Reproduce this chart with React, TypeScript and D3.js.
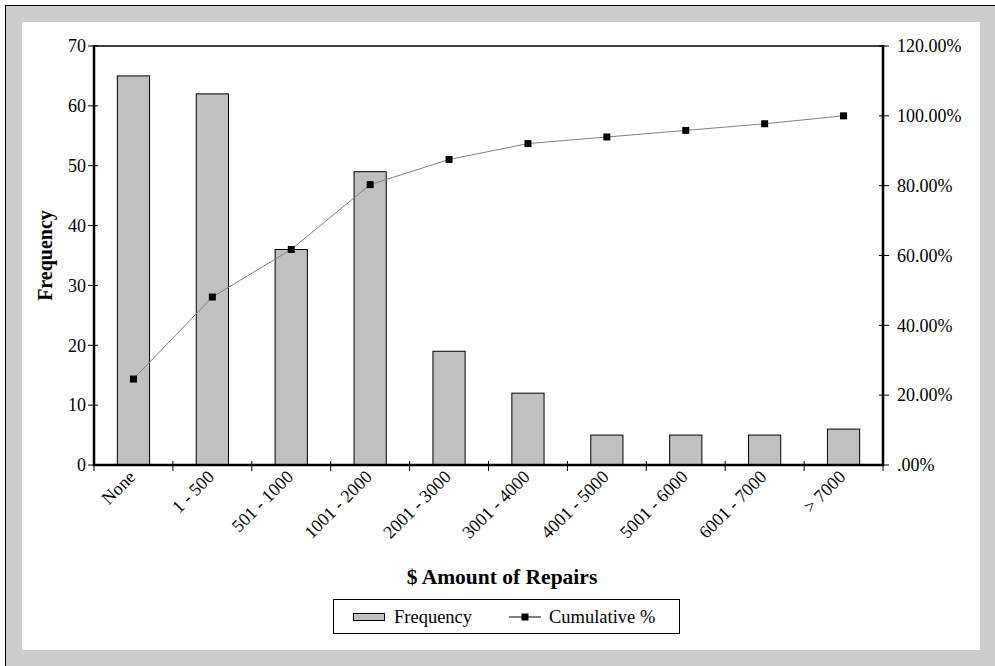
import React from "react";
import * as d3 from "d3";

const categories = ["None", "1 - 500", "501 - 1000", "1001 - 2000", "2001 - 3000", "3001 - 4000", "4001 - 5000", "5001 - 6000", "6001 - 7000", "> 7000"];
const frequency = [65, 62, 36, 49, 19, 12, 5, 5, 5, 6];
const cumulativePct = [24.62, 48.11, 61.74, 80.3, 87.5, 92.05, 93.94, 95.83, 97.73, 100.0];
const leftTicks = [0, 10, 20, 30, 40, 50, 60, 70];
const rightTicks = [0, 20, 40, 60, 80, 100, 120];

const W = 995;
const H = 666;
const FONT = "'Liberation Serif', 'Times New Roman', serif";

export default function App() {
  const left = 94;
  const right = 883;
  const top = 46;
  const bottom = 465;

  const x = d3.scaleBand<string>().domain(categories).range([left, right]).paddingInner(0).paddingOuter(0);
  const bw = x.bandwidth() / 2.45;
  const yL = d3.scaleLinear().domain([0, 70]).range([bottom, top]);
  const yR = d3.scaleLinear().domain([0, 120]).range([bottom, top]);

  const line = d3
    .line<number>()
    .x((_, i) => (x(categories[i]) as number) + x.bandwidth() / 2)
    .y((d) => yR(d));

  const fmtR = (v: number) => (v === 0 ? ".00%" : v.toFixed(2) + "%");

  return (
    <svg width={W} height={H} style={{ position: "absolute", left: 0, top: 0 }} fontFamily={FONT}>
      <rect x={0} y={0} width={W} height={H} fill="#ffffff" />
      <rect x={5} y={5} width={W - 5} height={H - 5} fill="#cccccc" />
      <line x1={5} y1={5.5} x2={W} y2={5.5} stroke="#000" strokeWidth={1} />
      <line x1={5.5} y1={5} x2={5.5} y2={H} stroke="#000" strokeWidth={1} />
      <rect x={22} y={22} width={958} height={628} fill="#ffffff" />

      {/* bars */}
      {categories.map((c, i) => {
        const cx = (x(c) as number) + x.bandwidth() / 2;
        return (
          <rect
            key={c}
            x={cx - bw / 2}
            y={yL(frequency[i])}
            width={bw}
            height={bottom - yL(frequency[i])}
            fill="#c0c0c0"
            stroke="#000"
            strokeWidth={1}
          />
        );
      })}

      {/* plot frame */}
      <line x1={left} y1={top} x2={right} y2={top} stroke="#000" strokeWidth={1.5} />
      <line x1={left} y1={top - 1} x2={left} y2={bottom + 1} stroke="#000" strokeWidth={2.5} />
      <line x1={right} y1={top - 1} x2={right} y2={bottom + 1} stroke="#000" strokeWidth={2.5} />
      <line x1={left - 1} y1={bottom} x2={right + 1} y2={bottom} stroke="#000" strokeWidth={2.5} />

      {/* left ticks */}
      {leftTicks.map((t) => (
        <g key={"l" + t}>
          <line x1={left - 6} x2={left + 4} y1={yL(t)} y2={yL(t)} stroke="#000" strokeWidth={1} />
          <text x={left - 8} y={yL(t)} dy="0.35em" textAnchor="end" fontSize={18} fill="#000">
            {t}
          </text>
        </g>
      ))}

      {/* right ticks */}
      {rightTicks.map((t) => (
        <g key={"r" + t}>
          <line x1={right - 4} x2={right + 6} y1={yR(t)} y2={yR(t)} stroke="#000" strokeWidth={1} />
          <text x={right + 14} y={yR(t)} dy="0.35em" textAnchor="start" fontSize={18} fill="#000">
            {fmtR(t)}
          </text>
        </g>
      ))}

      {/* bottom ticks */}
      {d3.range(categories.length + 1).map((i) => {
        const xx = left + i * x.bandwidth();
        return <line key={"b" + i} x1={xx} x2={xx} y1={bottom - 4} y2={bottom + 6} stroke="#000" strokeWidth={1} />;
      })}

      {/* x labels */}
      {categories.map((c) => {
        const cx = (x(c) as number) + x.bandwidth() / 2;
        return (
          <text
            key={"xl" + c}
            transform={`translate(${cx + 3},${bottom + 13}) rotate(-45)`}
            textAnchor="end"
            fontSize={18}
            fill="#000"
          >
            {c}
          </text>
        );
      })}

      {/* cumulative line */}
      <path d={line(cumulativePct) || ""} fill="none" stroke="#808080" strokeWidth={1} />
      {cumulativePct.map((v, i) => {
        const cx = (x(categories[i]) as number) + x.bandwidth() / 2;
        return <rect key={"m" + i} x={cx - 3.5} y={yR(v) - 3.5} width={7} height={7} fill="#000" />;
      })}

      {/* axis titles */}
      <text
        transform={`translate(52,${(top + bottom) / 2}) rotate(-90)`}
        textAnchor="middle"
        fontSize={20}
        fontWeight="bold"
        fill="#000"
      >
        Frequency
      </text>
      <text x={502} y={584} textAnchor="middle" fontSize={21.5} fontWeight="bold" fill="#000">
        $ Amount of Repairs
      </text>

      {/* legend */}
      <rect x={333.5} y={599.5} width={346} height={34} fill="#fff" stroke="#000" strokeWidth={1} />
      <rect x={353.5} y={613.5} width={31} height={7} fill="#c0c0c0" stroke="#000" strokeWidth={1} />
      <text x={394} y={617} dy="0.35em" fontSize={18.5} fill="#000">
        Frequency
      </text>
      <line x1={509} x2={541} y1={617} y2={617} stroke="#000" strokeWidth={1} />
      <rect x={521.5} y={613.5} width={7} height={7} fill="#000" />
      <text x={549} y={617} dy="0.35em" fontSize={18.5} fill="#000">
        Cumulative %
      </text>
    </svg>
  );
}
